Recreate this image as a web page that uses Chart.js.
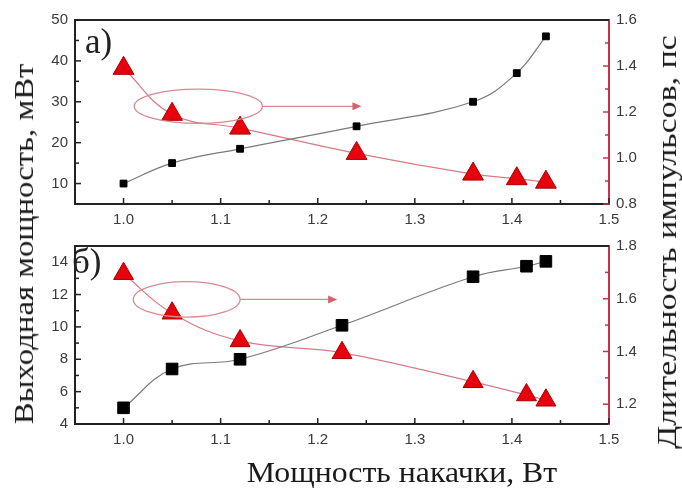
<!DOCTYPE html>
<html>
<head>
<meta charset="utf-8">
<script src="https://cdn.jsdelivr.net/npm/chart.js@4.4.1/dist/chart.umd.min.js"></script>
<style>
  html, body { margin: 0; padding: 0; background: #fff; }
  #wrap { position: relative; width: 682px; height: 488px; background: #fff; overflow: hidden; }
  .pane { position: absolute; left: 0; width: 682px; }
  .title { position: absolute; font-family: "Liberation Serif", "DejaVu Serif", serif; color: #1a1a1a; white-space: nowrap; line-height: 30px; }
  .tag { position: absolute; font-family: "Liberation Serif", serif; font-size: 35px; line-height: 35px; color: #222; }
</style>
</head>
<body>
<div id="wrap">
  <div class="pane" style="top:0;height:230px"><canvas id="chartA" width="682" height="230"></canvas></div>
  <div class="pane" style="top:230px;height:258px"><canvas id="chartB" width="682" height="258"></canvas></div>
  <div class="title" style="left:24px;top:244px;font-size:28px;transform:translate(-50%,-50%) rotate(-90deg) scaleX(1.17)">Выходная мощность, мВт</div>
  <div class="title" style="left:667px;top:242px;font-size:28px;transform:translate(-50%,-50%) rotate(-90deg) scaleX(1.21)">Длительность импульсов, пс</div>
  <div class="title" style="left:402px;top:457px;font-size:30px;transform:translateX(-50%) scaleX(1.06)">Мощность накачки, Вт</div>
  <div class="tag" style="left:85px;top:24px">a)</div>
  <div class="tag" style="left:72px;top:244px">б)</div>
</div>
<script>
// panel a
const pumpA = [1.0, 1.05, 1.12, 1.24, 1.36, 1.405, 1.435];
const outA = [10, 15, 18.5, 24, 30, 37, 46];
const durA = [1.39, 1.19, 1.13, 1.02, 0.93, 0.91, 0.895];
// panel b
const pumpB = [1.0, 1.05, 1.12, 1.225, 1.36, 1.415, 1.435];
const outB = [5, 7.4, 8.0, 10.1, 13.1, 13.75, 14.05];
const durB = [1.695, 1.545, 1.44, 1.395, 1.285, 1.235, 1.215];

const xTicks = [1.0, 1.1, 1.2, 1.3, 1.4, 1.5];

const pts = (xs, ys) => xs.map((x, i) => ({ x: x, y: ys[i] }));
const near = (v, step) => Math.abs(v / step - Math.round(v / step)) < 1e-6;
const stepTicks = (from, to, step) => {
    const t = [];
    for (let v = from; v <= to + 1e-6; v = +(v + step).toFixed(3)) t.push({ value: v });
    return t;
};

const tickFont = { family: '"Liberation Sans", Arial, sans-serif', size: 15 };
const tickGray = '#3a3a3a';
const redAxis = '#c8324a';

// inward ticks, top frame line, ellipse + arrow annotation
const frame = {
    id: 'frame',
    afterDatasetsDraw(chart, args, opts) {
        const ctx = chart.ctx;
        const a = chart.chartArea;
        const sx = chart.scales.x, sl = chart.scales.yL, sr = chart.scales.yR;
        ctx.save();
        ctx.lineWidth = 1.5;
        ctx.strokeStyle = '#222';
        sx.ticks.forEach(t => {
            const px = sx.getPixelForValue(t.value);
            const len = near(t.value, 0.1) ? 6 : 4;
            ctx.beginPath(); ctx.moveTo(px, a.bottom); ctx.lineTo(px, a.bottom - len); ctx.stroke();
        });
        sl.ticks.forEach(t => {
            const py = sl.getPixelForValue(t.value);
            const len = near(t.value, opts.leftMajor) ? 6 : 4;
            ctx.beginPath(); ctx.moveTo(a.left, py); ctx.lineTo(a.left + len, py); ctx.stroke();
        });
        ctx.strokeStyle = redAxis;
        sr.ticks.forEach(t => {
            const py = sr.getPixelForValue(t.value);
            const len = near(t.value, 0.2) ? 6 : 4;
            ctx.beginPath(); ctx.moveTo(a.right, py); ctx.lineTo(a.right - len, py); ctx.stroke();
        });
        ctx.strokeStyle = '#222';
        ctx.lineWidth = 2;
        ctx.beginPath(); ctx.moveTo(a.left - 1, a.top); ctx.lineTo(a.right, a.top); ctx.stroke();

        // ellipse with arrow towards the right axis
        const e = opts.ellipse;
        const cx = sx.getPixelForValue(e.x), cy = sl.getPixelForValue(e.y);
        const rx = sx.getPixelForValue(e.x + e.rx) - cx;
        const ry = cy - sl.getPixelForValue(e.y + e.ry);
        const ax = sx.getPixelForValue(e.arrowTo);
        ctx.strokeStyle = '#d88a90';
        ctx.lineWidth = 1.3;
        ctx.beginPath(); ctx.ellipse(cx, cy, rx, ry, 0, 0, Math.PI * 2); ctx.stroke();
        ctx.beginPath(); ctx.moveTo(cx + rx, cy); ctx.lineTo(ax - 6, cy); ctx.stroke();
        ctx.fillStyle = '#d8606c';
        ctx.beginPath(); ctx.moveTo(ax, cy); ctx.lineTo(ax - 9, cy - 4); ctx.lineTo(ax - 9, cy + 4); ctx.closePath(); ctx.fill();
        ctx.restore();
    }
};

function makeChart(id, cfg) {
    return new Chart(document.getElementById(id).getContext('2d'), {
        type: 'line',
        data: {
            datasets: [
                {
                    label: 'power',
                    data: pts(cfg.pump, cfg.out),
                    yAxisID: 'yL',
                    borderColor: '#7a7a7a',
                    borderWidth: 1.2,
                    tension: 0.4,
                    pointStyle: 'rect',
                    pointRadius: cfg.sq,
                    pointBackgroundColor: '#000',
                    pointBorderColor: '#000',
                    pointBorderWidth: 1,
                    order: 1
                },
                {
                    label: 'duration',
                    data: pts(cfg.pump, cfg.dur),
                    yAxisID: 'yR',
                    borderColor: '#d87a86',
                    borderWidth: 1.2,
                    tension: 0.4,
                    pointStyle: 'triangle',
                    pointRadius: cfg.tri,
                    pointBackgroundColor: '#e8000c',
                    pointBorderColor: '#a80000',
                    pointBorderWidth: 1,
                    order: 2
                }
            ]
        },
        options: {
            responsive: false,
            animation: false,
            events: [],
            layout: { padding: { top: cfg.padTop, left: 0, right: 0, bottom: 0 } },
            plugins: {
                legend: { display: false },
                tooltip: { enabled: false },
                frame: { ellipse: cfg.ellipse, leftMajor: cfg.leftMajor }
            },
            scales: {
                x: {
                    type: 'linear',
                    min: 0.95, max: 1.5,
                    afterFit: s => { s.height = cfg.xHeight; },
                    afterBuildTicks: s => { s.ticks = stepTicks(0.95, 1.5, 0.05); },
                    ticks: {
                        font: tickFont, color: tickGray, padding: 7, maxRotation: 0, autoSkip: false,
                        callback: v => xTicks.some(x => Math.abs(x - v) < 1e-6) ? v.toFixed(1) : ''
                    },
                    grid: { display: false, drawTicks: false },
                    border: { color: '#222', width: 2 }
                },
                yL: {
                    type: 'linear', position: 'left',
                    min: cfg.lMin, max: cfg.lMax,
                    afterFit: s => { s.width = 75; },
                    afterBuildTicks: s => { s.ticks = stepTicks(cfg.lMin, cfg.lMax, cfg.lStep); },
                    ticks: {
                        font: tickFont, color: tickGray, padding: 7, autoSkip: false,
                        callback: v => near(v, cfg.leftMajor) ? String(Math.round(v)) : ''
                    },
                    grid: { display: false, drawTicks: false },
                    border: { color: '#222', width: 2 }
                },
                yR: {
                    type: 'linear', position: 'right',
                    min: cfg.rMin, max: cfg.rMax,
                    afterFit: s => { s.width = 73; },
                    afterBuildTicks: s => { s.ticks = stepTicks(Math.ceil(cfg.rMin * 10 - 1e-6) / 10, cfg.rMax, 0.1); },
                    ticks: {
                        font: tickFont, color: tickGray, padding: 7, autoSkip: false,
                        callback: v => near(v, 0.2) ? v.toFixed(1) : ''
                    },
                    grid: { display: false, drawTicks: false },
                    border: { color: redAxis, width: 2 }
                }
            }
        },
        plugins: [frame]
    });
}

makeChart('chartA', {
    pump: pumpA, out: outA, dur: durA,
    sq: 4.8, tri: 12,
    padTop: 20, xHeight: 26,
    lMin: 5, lMax: 50, lStep: 5, leftMajor: 10,
    rMin: 0.8, rMax: 1.6,
    ellipse: { x: 1.077, y: 28.9, rx: 0.066, ry: 4.2, arrowTo: 1.245 }
});

makeChart('chartB', {
    pump: pumpB, out: outB, dur: durB,
    sq: 8.2, tri: 11.5,
    padTop: 15, xHeight: 64,
    lMin: 4, lMax: 15, lStep: 1, leftMajor: 2,
    rMin: 1.125, rMax: 1.8,
    ellipse: { x: 1.065, y: 11.7, rx: 0.055, ry: 1.1, arrowTo: 1.22 }
});
</script>
</body>
</html>
